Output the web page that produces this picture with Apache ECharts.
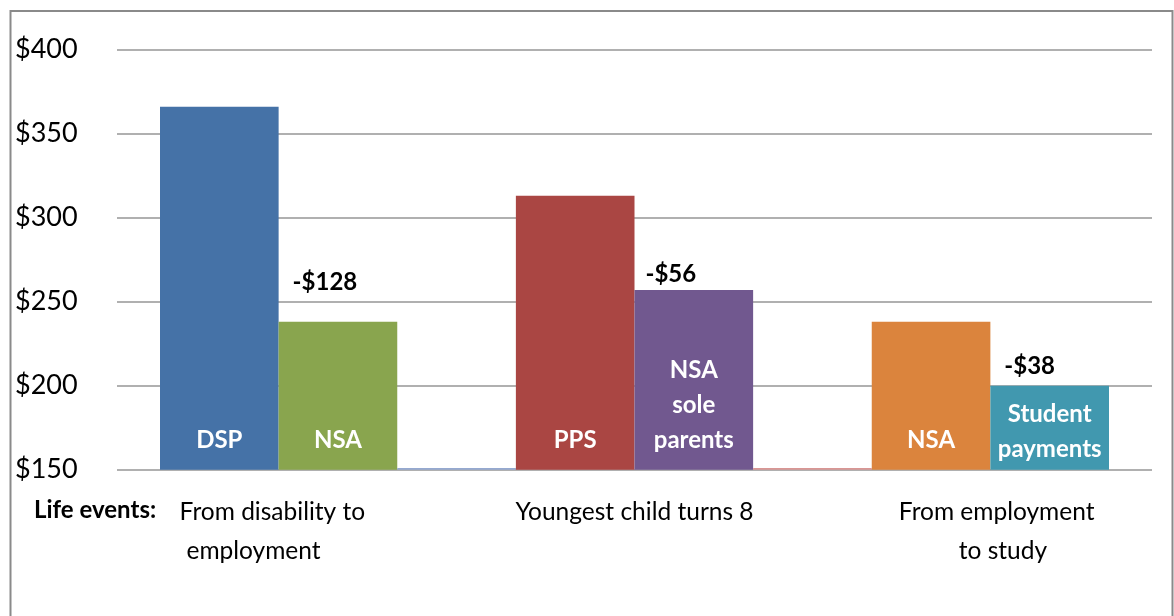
<!DOCTYPE html>
<html>
<head>
    <meta charset="UTF-8">
    <title>Life events payments</title>
    <script src="https://cdn.jsdelivr.net/npm/echarts@6/dist/echarts.min.js"></script>
    <style>
        html, body { margin: 0; padding: 0; background: #fff; }
        #chart { width: 1174px; height: 616px; }
    </style>
</head>
<body>
<div id="chart"></div>
<script>
    // data
    var slots = ['DSP', 'NSA', 'gap1', 'PPS', 'NSA sole parents', 'gap2', 'NSA', 'Student payments'];
    var values = [366, 238, 151, 313, 257, 151, 238, 200];
    var barLabels = ['DSP', 'NSA', '', 'PPS', 'NSA\nsole\nparents', '', 'NSA', 'Student\npayments'];
    var diffLabels = ['', '-$128', '', '', '-$56', '', '', '-$38'];
    // extra spaces as in the original labels (nudge the lines sideways a bit)
    var lifeEvents = ['From disability to  \nemployment        ', 'Youngest child turns 8', '  From employment\n    to study'];
    var yTicks = [150, 200, 250, 300, 350, 400];

    // styles
    var barColors = ['#4572A7', '#89A54E', '#95A9D0', '#AA4643', '#71588F', '#D99694', '#DB843D', '#4198AF'];
    var diffOffsets = [[0, 0], [-13, -28], [0, 0], [0, 0], [-23, -4], [0, 0], [0, 0], [-20, -7]];
    var insideDist = [12, 12, 12, 12, 12, 12, 12, 3];
    var font = 'Lato, "Open Sans", sans-serif';

    var chart = echarts.init(document.getElementById('chart'));

    var barData = [], diffData = [];
    for (var i = 0; i < slots.length; i++) {
        barData.push({
            value: values[i],
            itemStyle: { color: barColors[i] },
            label: { formatter: barLabels[i], distance: insideDist[i] }
        });
        diffData.push({
            value: values[i],
            label: { formatter: diffLabels[i], offset: diffOffsets[i] }
        });
    }

    var option = {
        backgroundColor: '#fff',
        animation: false,
        textStyle: { fontFamily: font },
        grid: [
            { left: 117, right: 22, top: 49.7, bottom: 146.3, outerBoundsMode: 'none' },
            { left: 160, right: 65, top: 49.7, bottom: 146.3, outerBoundsMode: 'none' }
        ],
        xAxis: [
            { gridIndex: 0, type: 'value', show: false, min: 0, max: 1 },
            { gridIndex: 1, type: 'category', data: slots, show: false, position: 'top' },
            {
                gridIndex: 1, type: 'value', position: 'bottom', min: 0, max: slots.length, interval: 1,
                axisLine: { show: false }, axisTick: { show: false }, splitLine: { show: false },
                axisLabel: {
                    margin: 23,
                    fontSize: 24.5,
                    lineHeight: 39,
                    color: '#000',
                    fontFamily: font,
                    formatter: function (v) {
                        if (v % 3 === 1) return lifeEvents[Math.floor(v / 3)];
                        return '';
                    }
                }
            }
        ],
        yAxis: [
            {
                gridIndex: 0, type: 'value', min: yTicks[0], max: yTicks[yTicks.length - 1], interval: 50,
                axisLine: { show: false }, axisTick: { show: false },
                splitLine: { lineStyle: { color: '#969696', width: 1.5 } },
                axisLabel: {
                    align: 'left',
                    margin: 102,
                    fontSize: 27,
                    color: '#000',
                    fontFamily: font,
                    formatter: function (v) { return '$' + v; }
                }
            },
            { gridIndex: 1, type: 'value', min: yTicks[0], max: yTicks[yTicks.length - 1], show: false }
        ],
        series: [
            {
                type: 'bar',
                xAxisIndex: 1,
                yAxisIndex: 1,
                barCategoryGap: '0%',
                barGap: '-100%',
                data: barData,
                label: {
                    show: true,
                    position: 'insideBottom',
                    color: '#fff',
                    fontWeight: 'bold',
                    fontSize: 24,
                    lineHeight: 35,
                    fontFamily: font
                }
            },
            {
                type: 'bar',
                xAxisIndex: 1,
                yAxisIndex: 1,
                barCategoryGap: '0%',
                barGap: '-100%',
                data: diffData,
                itemStyle: { color: 'rgba(0,0,0,0)' },
                label: {
                    show: true,
                    position: 'top',
                    distance: 0,
                    color: '#000',
                    fontWeight: 'bold',
                    fontSize: 24,
                    lineHeight: 24,
                    fontFamily: font
                }
            }
        ],
        graphic: [
            {
                type: 'rect',
                shape: { x: 10.5, y: 11, width: 1162, height: 640 },
                style: { fill: 'none', stroke: '#8a8a8a', lineWidth: 2 },
                silent: true
            },
            {
                type: 'text',
                left: 34,
                top: 498,
                style: { text: 'Life events:', fontSize: 24, fontWeight: 'bold', fill: '#000', fontFamily: font }
            }
        ]
    };

    chart.setOption(option);
</script>
</body>
</html>
